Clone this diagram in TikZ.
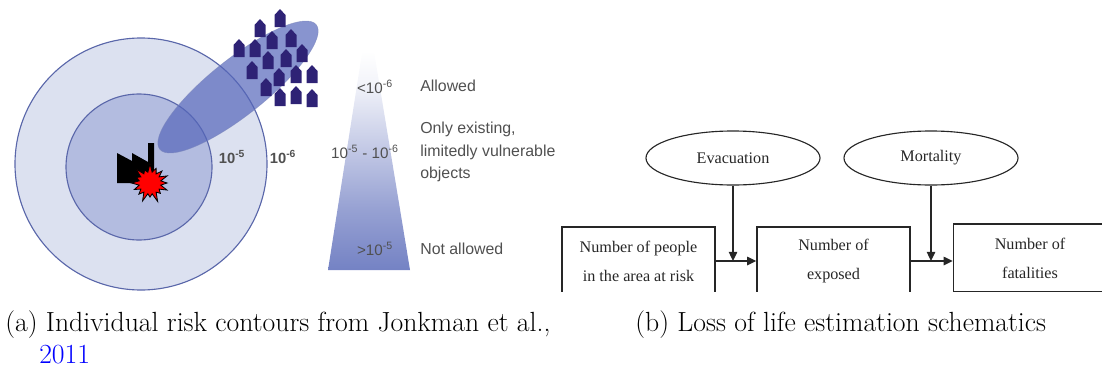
\documentclass[tikz,border=0pt]{standalone}
\usepackage{fontspec}
\usetikzlibrary{arrows.meta,shapes.geometric,positioning}
\newfontfamily\arialfont{Liberation Sans}
\newfontfamily\timesfont{Liberation Serif}
\definecolor{ringout}{HTML}{DCE1F0}
\definecolor{ringin}{HTML}{B3BCE0}
\definecolor{ringline}{HTML}{5A67AA}
\definecolor{plumecol}{HTML}{5566BA}
\definecolor{housecol}{HTML}{2E2275}
\definecolor{labelgray}{HTML}{505050}
\definecolor{wedgeblue}{HTML}{7482C4}
\definecolor{citeblue}{HTML}{0000FF}
\pgfdeclareverticalshading{wedgefade}{100bp}{color(0bp)=(wedgeblue); color(25bp)=(wedgeblue);
  color(37bp)=(wedgeblue!75); color(50bp)=(wedgeblue!40); color(62bp)=(wedgeblue!8);
  color(68bp)=(white); color(100bp)=(white)}
\tikzset{
  house/.pic={\fill[housecol] (-5.5,9) -- (-5.5,-3) -- (0,-9) -- (5.5,-3) -- (5.5,9) -- cycle;},
}

\begin{document}
\begin{tikzpicture}[x=0.025cm, y=-0.025cm,
    ring/.style={draw=ringline, line width=0.8pt},
    risklabel/.style={font=\arialfont\bfseries\fontsize{10.5}{12}\selectfont, text=labelgray, inner sep=0},
    zonelabel/.style={font=\arialfont\fontsize{10.8}{12}\selectfont, text=labelgray, inner sep=0},
    rulelabel/.style={font=\arialfont\fontsize{11.3}{15.8}\selectfont, text=labelgray, inner sep=0, anchor=west, align=left},
    stage/.style={draw=black!85, line width=1pt, minimum width=3.825cm, minimum height=1.7cm,
      align=center, inner sep=0, text=black!85, font=\timesfont\fontsize{11.5}{20.5}\selectfont},
    cause/.style={ellipse, draw=black!85, line width=0.8pt, minimum width=4.35cm, minimum height=1.35cm,
      inner sep=0, text=black!85, font=\timesfont\fontsize{11.5}{14}\selectfont},
    flow/.style={draw=black!85, line width=1pt, -{Triangle[length=6.5pt,width=6pt]}},
    caption/.style={font=\fontsize{19.7}{23}\selectfont, inner sep=0, anchor=base west}
  ]
  \useasboundingbox (0,0) rectangle (1102,369);

  % contours
  \filldraw[ring, fill=ringout] (141,164) circle [radius=126];
  \filldraw[ring, fill=ringin] (139,167) circle [radius=73];
  \fill[plumecol, opacity=0.7, rotate around={38.5:(238,87)}] (238,87) ellipse [x radius=100, y radius=28];
  \draw[ringline!80, opacity=0.6, rotate around={38.5:(238,87)}] (238,87) ellipse [x radius=100, y radius=28];

  % plant and blast
  \fill[black] (117,183) -- (117,153) -- (132,161) -- (132,153) -- (148,162) -- (148,143)
    -- (154,143) -- (154,175) -- (140,183) -- cycle;
  \filldraw[fill=red, draw=black, line width=0.6pt]
    plot[samples at={0,...,31}, variable=\k]
      ({150+(mod(\k,2)==0 ? 17+3*sin(\k*77) : 11)*cos(\k*11.25)},
       {183+(mod(\k,2)==0 ? 17+3*sin(\k*77) : 11)*sin(\k*11.25)}) -- cycle;

  % houses
  \foreach \hx/\hy in {280/18, 260/28, 291/38, 272/40, 239/48, 255/48, 302/53, 286/58, 268/60,
      252/70, 312/74, 296/74, 279/77, 266/87, 280/97, 296/95, 312/98}
    \pic at (\hx,\hy) {house};

  \node[risklabel] (r5) at (232,157) {10\textsuperscript{-5}};
  \node[risklabel] (r6) at (283,157) {10\textsuperscript{-6}};

  % wedge with zones
  \shade[shading=wedgefade] (368,15) -- (410,270) -- (328,270) -- cycle;
  \node[zonelabel] (low) at (375,87) {<10\textsuperscript{-6}};
  \node[zonelabel] (mid) at (365,152) {10\textsuperscript{-5} - 10\textsuperscript{-6}};
  \node[zonelabel] (high) at (375,249) {>10\textsuperscript{-5}};
  \node[rulelabel] (allowed) at (420,86) {Allowed};
  \node[rulelabel] (existing) at (420,152) {Only existing,\\limitedly vulnerable\\objects};
  \node[rulelabel] (notallowed) at (420,249) {Not allowed};

  % loss of life chain
  \node[cause] (evac) at (733,158) {Evacuation};
  \node[cause] (mort) at (931,158) {Mortality};
  \begin{scope}
    \clip (540,200) rectangle (1102,291);
    \node[stage] (people) at (638.5,261) {Number of people\\in the area at risk};
    \node[stage] (exposed) at (833.5,261) {Number of\\exposed};
    \node[stage] (fatal) at (1030,258) {Number of\\fatalities};
  \end{scope}
  \draw[flow] (people.east) -- (people.east -| exposed.west);
  \draw[flow] (exposed.east) -- (exposed.east -| fatal.west);
  \draw[flow] (evac) -- (evac |- people.east);
  \draw[flow] (mort) -- (mort |- exposed.east);

  \node[caption] (capa) at (5,331) {(a) Individual risk contours from Jonkman et al.,};
  \node[caption, text=citeblue] (year) at (39,363) {2011};
  \node[caption] (capb) at (635,331) {(b) Loss of life estimation schematics};
\end{tikzpicture}
\end{document}
